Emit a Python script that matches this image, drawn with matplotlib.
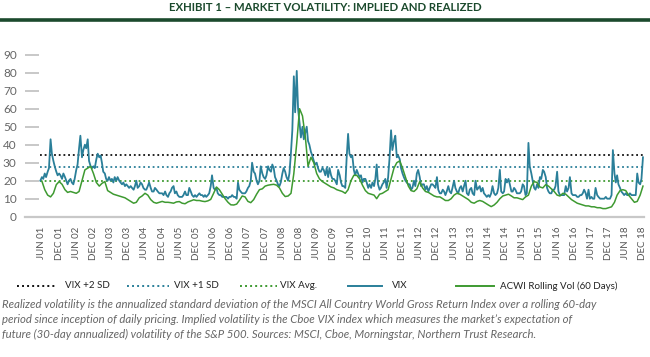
import matplotlib
matplotlib.use("Agg")
import matplotlib.pyplot as plt
from matplotlib.lines import Line2D
import pandas as pd

plt.rcParams['font.family'] = ['Lato', 'DejaVu Sans']

# ---------------- data ----------------
# VIX, two readings per month (Jun 2001 - Dec 2018)
vix_2001 = [20, 22, 21, 24, 22, 25, 27, 43, 35, 31, 28, 25, 23, 24]
vix_2002 = [23, 21, 24, 22, 20, 18, 20, 21, 19, 18, 21, 26, 29, 38, 45, 33, 37, 40, 38, 43, 31, 28, 27, 28]
vix_2003 = [27, 32, 35, 33, 34, 30, 25, 24, 21, 20, 22, 20, 21, 19, 22, 20, 22, 20, 19, 18, 19, 17, 18, 17]
vix_2004 = [16, 17, 16, 15, 17, 20, 16, 17, 19, 18, 16, 15, 15, 17, 19, 16, 14, 14, 16, 15, 14, 13, 13, 13]
vix_2005 = [12, 14, 12, 11, 13, 14, 16, 17, 13, 14, 12, 11, 11, 11, 12, 14, 12, 12, 16, 14, 12, 11, 12, 11]
vix_2006 = [12, 13, 12, 12, 11, 12, 11, 12, 13, 17, 23, 16, 15, 16, 13, 12, 12, 11, 11, 11, 11, 10, 11, 11]
vix_2007 = [12, 11, 11, 10, 19, 15, 14, 13, 13, 13, 14, 16, 17, 20, 30, 25, 24, 20, 18, 20, 28, 24, 22, 21]
vix_2008 = [23, 28, 26, 25, 29, 27, 22, 20, 18, 17, 19, 24, 27, 25, 22, 20, 24, 36, 48, 78, 58, 81, 60, 52]
vix_2009 = [44, 50, 43, 47, 50, 42, 40, 36, 34, 31, 29, 30, 27, 25, 25, 27, 26, 23, 27, 22, 27, 23, 21, 21]
vix_2010 = [20, 18, 26, 23, 19, 17, 17, 16, 32, 46, 35, 33, 34, 26, 23, 26, 24, 22, 23, 19, 21, 21, 19, 16]
vix_2011 = [18, 16, 19, 17, 21, 29, 18, 15, 16, 18, 19, 21, 16, 22, 32, 48, 37, 42, 45, 33, 34, 32, 27, 24]
vix_2012 = [22, 20, 19, 18, 18, 15, 16, 20, 17, 24, 26, 22, 17, 18, 18, 15, 17, 14, 16, 18, 18, 17, 16, 22]
vix_2013 = [15, 13, 13, 15, 14, 12, 14, 17, 14, 13, 16, 20, 16, 14, 13, 16, 17, 14, 17, 20, 13, 12, 15, 16]
vix_2014 = [13, 12, 20, 15, 16, 17, 14, 16, 13, 12, 11, 12, 11, 13, 17, 13, 12, 13, 16, 26, 14, 13, 14, 21]
vix_2015 = [19, 21, 18, 14, 14, 16, 15, 13, 13, 13, 14, 18, 17, 12, 13, 41, 28, 24, 20, 16, 15, 18, 16, 22]
vix_2016 = [21, 26, 25, 22, 16, 14, 13, 13, 15, 15, 17, 25, 14, 12, 12, 12, 12, 17, 14, 16, 22, 13, 12, 12]
vix_2017 = [12, 11, 11, 12, 12, 13, 15, 13, 10, 15, 10, 11, 10, 10, 16, 12, 11, 10, 10, 10, 10, 11, 10, 10]
vix_2018 = [10, 12, 37, 24, 19, 23, 18, 16, 14, 13, 12, 13, 12, 12, 13, 12, 12, 12, 12, 24, 19, 18, 21, 33]

# ACWI 60-day rolling realized volatility, monthly (Jun 2001 - Dec 2018)
acwi_2001 = [19.7, 15, 12, 11, 13, 17.8, 19.5]
acwi_2002 = [18, 15, 13.5, 14, 13.5, 13, 14, 20, 26, 27, 28, 24]
acwi_2003 = [19, 17, 18.5, 19.5, 14.5, 13.5, 12.5, 12, 11.5, 11, 10.5, 9.5]
acwi_2004 = [8.5, 7.5, 8, 10.5, 11.5, 13, 12, 9.5, 8, 7.5, 8, 8.5]
acwi_2005 = [8, 8, 7.8, 7.5, 8.2, 8.4, 7.5, 7.2, 8.2, 8.8, 9.4, 9]
acwi_2006 = [9, 8.6, 8.4, 8.8, 9.6, 13, 16.5, 15, 12.5, 10, 8, 6.6]
acwi_2007 = [6.5, 7, 9, 11.5, 11, 8.5, 7.8, 9.5, 12.5, 15, 15.5, 17]
acwi_2008 = [17.5, 17.8, 18, 17.5, 16, 13, 11.2, 11.5, 13, 24, 41, 60]
acwi_2009 = [56, 44, 28, 33, 30, 24, 21, 19.5, 18.5, 17.5, 16.5, 16]
acwi_2010 = [15, 14.5, 14, 13, 15, 20, 23, 23, 21, 17.5, 14.5, 13]
acwi_2011 = [12.5, 12, 10, 12.5, 13, 14, 15, 21, 27, 30, 31, 27]
acwi_2012 = [22, 17, 14.5, 14, 15.5, 19.5, 16, 14, 13.5, 12.5, 11.5, 11]
acwi_2013 = [11, 10, 9, 9, 10, 12, 13, 12.5, 11.5, 10.5, 9.5, 8]
acwi_2014 = [7.5, 8.5, 9, 8.5, 7.5, 6.5, 5.6, 6.5, 8, 10, 11.5, 12]
acwi_2015 = [12.5, 11.5, 10.5, 10.5, 10, 9.5, 11, 12, 17, 19.5, 19, 16.5]
acwi_2016 = [16, 17.8, 17, 15.5, 14, 12, 11.5, 13, 12.5, 11, 9.5, 8.5]
acwi_2017 = [7.5, 7, 6.5, 6, 6, 5.5, 5.5, 5, 5, 4.5, 4.5, 5]
acwi_2018 = [5.5, 8, 12, 14.5, 15, 14.5, 12, 10, 8, 8.5, 12, 17]

vix_avg = 19.6
vix_plus1 = 27.4
vix_plus2 = 34.5

tick_labels = [f"{m} {y:02d}" for y in range(1, 19) for m in ("JUN", "DEC")]

title = "EXHIBIT 1 \u2013 MARKET VOLATILITY: IMPLIED AND REALIZED"
footnote = ("Realized volatility is the annualized standard deviation of the MSCI All Country World Gross Return Index over a rolling 60-day\n"
            "period since inception of daily pricing. Implied volatility is the Cboe VIX index which measures the market\u2019s expectation of\n"
            "future (30-day annualized) volatility of the S&P 500. Sources: MSCI, Cboe, Morningstar, Northern Trust Research.")

# ---------------- assemble ----------------
vix = (vix_2001 + vix_2002 + vix_2003 + vix_2004 + vix_2005 + vix_2006 + vix_2007 + vix_2008 +
       vix_2009 + vix_2010 + vix_2011 + vix_2012 + vix_2013 + vix_2014 + vix_2015 + vix_2016 +
       vix_2017 + vix_2018)
acwi = (acwi_2001 + acwi_2002 + acwi_2003 + acwi_2004 + acwi_2005 + acwi_2006 + acwi_2007 + acwi_2008 +
        acwi_2009 + acwi_2010 + acwi_2011 + acwi_2012 + acwi_2013 + acwi_2014 + acwi_2015 + acwi_2016 +
        acwi_2017 + acwi_2018)
vix_dates = pd.date_range("2001-05-15", periods=len(vix), freq="SMS")
acwi_dates = pd.date_range("2001-06-01", periods=len(acwi), freq="MS")

TEAL = "#2a7f99"
GREEN = "#3e9a31"
DKGREEN = "#1b4a2d"

fig = plt.figure(figsize=(6.5, 3.57), dpi=100)
ax = fig.add_axes([25/650, 1-216.7/357, (644-25)/650, (216.7-54.7)/357])

x0, x1 = vix_dates[0], vix_dates[-1] + pd.Timedelta(days=12)
ax.hlines(vix_plus2, x0, x1, colors="#111111", linestyles=(0, (1, 1.6)), lw=1.3)
ax.hlines(vix_plus1, x0, x1, colors=TEAL, linestyles=(0, (1, 1.6)), lw=1.3)
ax.hlines(vix_avg, x0, x1, colors=GREEN, linestyles=(0, (1, 1.6)), lw=1.3)
ax.plot(vix_dates, vix, color=TEAL, lw=1.3)
ax.plot(acwi_dates, acwi, color=GREEN, lw=1.1)

ax.set_ylim(0, 90)
ax.set_xlim(pd.Timestamp("2000-12-03"), pd.Timestamp("2018-12-12"))
ax.set_yticks(range(0, 91, 10))
ax.tick_params(axis="y", direction="in", length=10, width=1.4, color="#c8c8c8",
               labelsize=8.5, labelcolor="#666666", pad=6)
ticks = [pd.Timestamp(f"20{y:02d}-{m:02d}-01") for y in range(1, 19) for m in (6, 12)]
ax.set_xticks(ticks)
ax.set_xticklabels(tick_labels, rotation=90, fontsize=7, color="#555555")
ax.tick_params(axis="x", length=0, pad=7)
for s in ("left", "top", "right"):
    ax.spines[s].set_visible(False)
ax.spines["bottom"].set_color("#c8c8c8")
ax.spines["bottom"].set_linewidth(1.6)
ax.set_facecolor("none")

# title and bar
fig.text(0.5, 1-7.5/357, title, ha="center", va="center", fontsize=8.2, fontweight="bold", color=DKGREEN)
fig.add_artist(Line2D([0, 1], [1-20/357, 1-20/357], color=DKGREEN, lw=2.6, transform=fig.transFigure))

# legend
ly = 1-286/357
items = [
    (17, 56, "#111111", (0, (1, 1.6)), 65, "VIX +2 SD"),
    (127, 169, TEAL, (0, (1, 1.6)), 174, "VIX +1 SD"),
    (240, 277, GREEN, (0, (1, 1.6)), 280, "VIX Avg."),
    (348, 382, TEAL, "-", 392, "VIX"),
    (456, 494, GREEN, "-", 500, "ACWI Rolling Vol (60 Days)"),
]
for a, b, c, ls, tx, lab in items:
    fig.add_artist(Line2D([a/650, b/650], [ly, ly], color=c, ls=ls, lw=1.4, transform=fig.transFigure))
    fig.text(tx/650, ly, lab, ha="left", va="center", fontsize=7, color="#222222")

fig.text(2/650, 1-299/357, footnote, ha="left", va="top", fontsize=8.2, style="italic",
         color="#666666", linespacing=1.45)

fig.savefig("out.png", dpi=100)
